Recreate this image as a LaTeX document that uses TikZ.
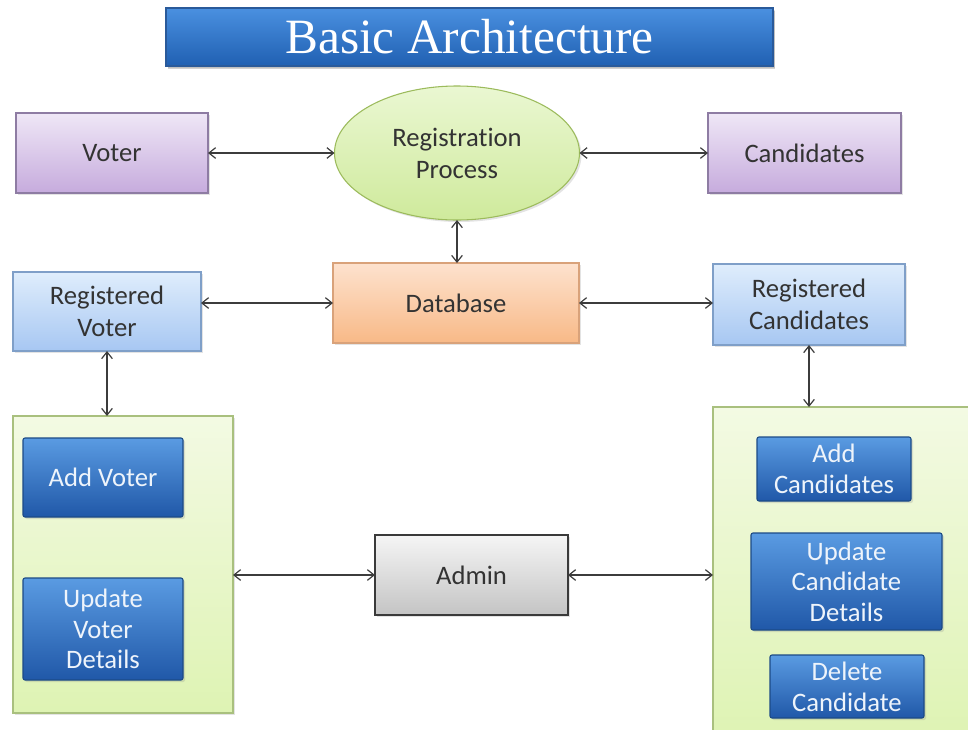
\documentclass[tikz,border=0pt]{standalone}
\usepackage{fontspec}
\setmainfont{Carlito}[Ligatures=CommonOff]
\newfontfamily\titlefont{Liberation Serif}
\usetikzlibrary{arrows.meta,shapes.geometric,shadows,calc}
\definecolor{purpTop}{HTML}{EFE7F6}
\definecolor{purpBot}{HTML}{C6ABDD}
\definecolor{purpBrd}{HTML}{8E7CA3}
\definecolor{ellTop}{HTML}{EAF7D2}
\definecolor{ellBot}{HTML}{CFEA9C}
\definecolor{ellBrd}{HTML}{9CBB5C}
\definecolor{lbTop}{HTML}{DFEDFC}
\definecolor{lbBot}{HTML}{A7C7F2}
\definecolor{lbBrd}{HTML}{7F9FC8}
\definecolor{orTop}{HTML}{FDE2CE}
\definecolor{orBot}{HTML}{F8B987}
\definecolor{orBrd}{HTML}{D9A27A}
\definecolor{grTop}{HTML}{F5F5F5}
\definecolor{grBot}{HTML}{C4C4C4}
\definecolor{grBrd}{HTML}{3A3A3A}
\definecolor{pnTop}{HTML}{F3FAE3}
\definecolor{pnBot}{HTML}{DEF3B3}
\definecolor{pnBrd}{HTML}{A9C07E}
\definecolor{btTop}{HTML}{5A9BE2}
\definecolor{btBot}{HTML}{2058A8}
\definecolor{btBrd}{HTML}{1C4A86}
\definecolor{tiTop}{HTML}{4A90E0}
\definecolor{tiBot}{HTML}{2060B2}
\definecolor{tiBrd}{HTML}{2A5A9A}
\definecolor{txt}{HTML}{333333}
\definecolor{wtxt}{HTML}{EEF4FB}
\definecolor{arr}{HTML}{3C3C3C}
\begin{document}
\begin{tikzpicture}[x=0.75pt,y=-0.75pt,
  base/.style={inner sep=0pt, outer sep=0pt, align=center, text=txt,
    font=\fontsize{20}{24}\selectfont, line width=0.8pt,
    drop shadow={opacity=0.22, shadow xshift=1.5pt, shadow yshift=-1.5pt}},
  purplebox/.style={base, draw=purpBrd, top color=purpTop, bottom color=purpBot},
  regbox/.style={base, draw=lbBrd, top color=lbTop, bottom color=lbBot},
  dbbox/.style={base, draw=orBrd, top color=orTop, bottom color=orBot},
  adminbox/.style={base, draw=grBrd, top color=grTop, bottom color=grBot},
  panel/.style={base, draw=pnBrd, top color=pnTop, bottom color=pnBot},
  button/.style={base, draw=btBrd, top color=btTop, bottom color=btBot,
    text=wtxt, rounded corners=1.5pt, font=\fontsize{20}{23}\selectfont},
  conn/.style={draw=arr, line width=0.9pt,
    {Straight Barb[length=5pt,width=8pt]}-{Straight Barb[length=5pt,width=8pt]}}
]
\clip (0,0) rectangle (968,729);
\fill[white] (0,0) rectangle (968,729);

% title
\node[base, draw=tiBrd, top color=tiTop, bottom color=tiBot, text=white,
  minimum width=455.25pt, minimum height=43.5pt,
  font=\titlefont\fontsize{37}{40}\selectfont,
  drop shadow={opacity=0.35, shadow xshift=1.5pt, shadow yshift=-2pt}]
  (title) at (469.5,37) {Basic Architecture};

% top row
\node[purplebox, minimum width=144pt, minimum height=60pt] (voter) at (112,153) {Voter};
\node[base, ellipse, draw=ellBrd, top color=ellTop, bottom color=ellBot,
  minimum width=183.75pt, minimum height=100.5pt] (reg) at (457,153) {Registration\\Process};
\node[purplebox, minimum width=144.75pt, minimum height=60pt] (cand) at (804.5,153) {Candidates};

% second row
\node[regbox, minimum width=141pt, minimum height=59.25pt] (regvoter) at (107,311.5) {Registered\\Voter};
\node[dbbox, minimum width=184.5pt, minimum height=60pt] (db) at (456,303) {Database};
\node[regbox, minimum width=144pt, minimum height=60.75pt] (regcand) at (809,304.5) {Registered\\Candidates};

% panels
\node[panel, minimum width=165pt, minimum height=222.75pt] (lpanel) at (123,564.5) {};
\node[panel, minimum width=200.25pt, minimum height=249.75pt] (rpanel) at (846.5,573.5) {};

% buttons
\node[button, minimum width=120pt, minimum height=59.25pt] (addvoter) at (103,477.5) {Add Voter};
\node[button, minimum width=120pt, minimum height=76.5pt] (updvoter) at (103,629) {Update\\Voter\\Details};
\node[button, minimum width=115.5pt, minimum height=48pt] (addcand) at (834,469) {Add\\Candidates};
\node[button, minimum width=143.25pt, minimum height=72.75pt] (updcand) at (846.5,581.5) {Update\\Candidate\\Details};
\node[button, minimum width=115.5pt, minimum height=47.25pt] (delcand) at (847,686.5) {Delete\\Candidate};

% admin
\node[adminbox, minimum width=144.75pt, minimum height=60pt] (admin) at (471.5,575) {Admin};

% connectors
\draw[conn] (voter.east) -- (reg.west);
\draw[conn] (reg.east) -- (cand.west);
\draw[conn] (reg.south) -- (reg.south |- db.north);
\draw[conn] (regvoter.east |- db.west) -- (db.west);
\draw[conn] (db.east) -- (regcand.west |- db.east);
\draw[conn] (regvoter.south) -- (regvoter.south |- lpanel.north);
\draw[conn] (regcand.south) -- (regcand.south |- rpanel.north);
\draw[conn] (lpanel.east |- admin.west) -- (admin.west);
\draw[conn] (admin.east) -- (rpanel.west |- admin.east);
\end{tikzpicture}
\end{document}
